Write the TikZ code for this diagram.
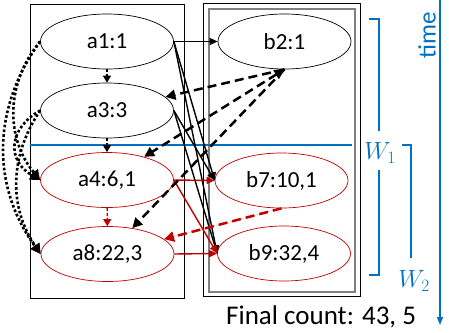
\documentclass[tikz,border=0pt]{standalone}
\usepackage{fontspec}
\setmainfont{Carlito}
\usepackage{tikz}
\usetikzlibrary{shapes.geometric, arrows.meta, positioning, calc}

\definecolor{winblue}{RGB}{0,112,192}
\definecolor{darkred}{RGB}{192,0,0}

\begin{document}
\begin{tikzpicture}[x=1pt, y=-1pt,
    event/.style={ellipse, draw, line width=0.7pt, minimum width=133pt, minimum height=55pt, inner sep=0pt, font=\fontsize{23}{26}\selectfont},
    newevent/.style={event, draw=darkred},
    box/.style={rectangle, draw, line width=1pt, inner sep=0pt},
    match/.style={line width=1.4pt, -{Triangle[length=8pt, width=7pt]}},
    newmatch/.style={match, draw=darkred, fill=darkred},
    order/.style={line width=2.6pt, dash pattern=on 2.6pt off 2.2pt, -{Triangle[length=10pt, width=10pt]}},
    next/.style={line width=1.4pt, dash pattern=on 3pt off 2pt, -{Triangle[length=7pt, width=8pt]}},
    retract/.style={line width=2.5pt, dash pattern=on 9pt off 5pt, -{Triangle[length=10pt, width=10pt]}},
    bracket/.style={winblue, line width=2pt},
    wlabel/.style={text=winblue, font=\fontsize{23}{25}\selectfont}
  ]

    \useasboundingbox (0,0) rectangle (449,332);

    % Streams
    \node[box, minimum width=154pt, minimum height=294pt] (lbox) at (107,151) {};
    \node[box, minimum width=157pt, minimum height=293pt] (rbox) at (281.5,150) {};
    \node[box, draw=gray, line width=2pt, minimum width=146pt, minimum height=283pt] (rinner) at (282,150.5) {};

    % Window border
    \coordinate (cutL) at (30,145);
    \coordinate (cutR) at (352,145);
    \draw[winblue, line width=2pt] (cutL) -- (cutR);

    % Events
    \node[event] (a1) at (107,41.5) {a1:1};
    \node[event] (a3) at (107,110.5) {a3:3};
    \node[newevent] (a4) at (107,180) {a4:6,1};
    \node[newevent] (a8) at (107.5,254) {a8:22,3};
    \node[event] (b2) at (284.5,41.5) {b2:1};
    \node[newevent] (b7) at (281.5,180.5) {b7:10,1};
    \node[newevent] (b9) at (284,253.5) {b9:32,4};

    % Order in stream a
    \draw[next] (a1) -- (a3);
    \draw[next] (a3) -- (a4);
    \draw[next, draw=darkred, fill=darkred] (a4) -- (a8);
    \draw[order] (a1.west) to[bend right=40] (a4.west);
    \draw[order] (a1.west) to[bend right=36] (a8.west);
    \draw[order] (a3.west) to[bend right=60, looseness=1.4] (a4.west);
    \draw[order] (a3.west) to[bend right=34] (a8.west);

    % Matches
    \draw[match] (a1.east) -- (b2.west);
    \draw[match] (a1.east) -- (b7.west);
    \draw[match] (a1.east) -- (b9.west);
    \draw[match] (a3.east) -- (b7.west);
    \draw[match] (a3.east) -- (b9.west);
    \draw[newmatch] (a4.east) -- (b7.west);
    \draw[newmatch] (a4.east) -- (b9.west);
    \draw[newmatch] (a8.east) -- (b9.west);

    % Retractions
    \draw[retract] (b2.south) -- (a3);
    \draw[retract, {Triangle[length=10pt, width=10pt]}-{Triangle[length=10pt, width=10pt]}] (b2.south) -- (a4);
    \draw[retract] (b2.south) -- (a8);
    \draw[retract, draw=darkred, fill=darkred] (b7.south) -- (a8);

    % Windows
    \node[wlabel] (w1) at (380,153) {$W_1$};
    \node[wlabel] (w2) at (414,281) {$W_2$};
    \draw[bracket] (369,19) -- (379,19) -- (379,131);
    \draw[bracket] (379,170) -- (379,275) -- (369,275);
    \draw[bracket] (402,145) -- (411,145) -- (411,258);

    % Time
    \coordinate (t0) at (440,0);
    \coordinate (t1) at (440,325);
    \draw[winblue, line width=1.5pt, -{Triangle[length=8pt, width=6pt]}] (t0) -- (t1);
    \node[rotate=90, text=winblue, font=\fontsize{25}{27}\selectfont] (time) at (427,35) {time};

    \node[anchor=west, inner sep=0pt, font=\fontsize{27}{30}\selectfont] (count) at (226,317) {Final count: 43, 5};

  \end{tikzpicture}
\end{document}
